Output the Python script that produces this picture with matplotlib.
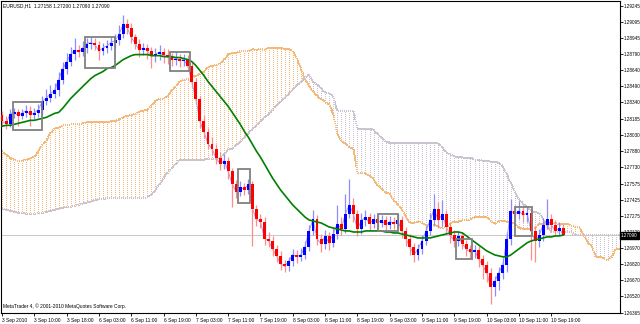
import numpy as np
import matplotlib
matplotlib.use("Agg")
import matplotlib.pyplot as plt
from matplotlib.patches import Rectangle
import matplotlib.transforms as mtransforms

plt.rcParams["font.family"] = ["Liberation Sans", "DejaVu Sans"]

# EURUSD H1 candles (bar index = hour on the chart)
first_open = 1.2822
closes = [
    1.2816, 1.2814, 1.2823, 1.2825, 1.2821, 1.2824, 1.2826, 1.2822, 1.2824, 1.2827,
    1.2835, 1.2838, 1.2842, 1.2845, 1.2855, 1.2865, 1.2872, 1.2879, 1.2883, 1.2881,
    1.2885, 1.2889, 1.2890, 1.2888, 1.2882, 1.2885, 1.2887, 1.2890, 1.2892, 1.2898,
    1.2907, 1.2904, 1.2895, 1.2889, 1.2883, 1.2885, 1.2882, 1.2877, 1.2879, 1.2881,
    1.2878, 1.2876, 1.2874, 1.2875, 1.2873, 1.2874, 1.2868, 1.2853, 1.2837, 1.2816,
    1.2806, 1.2795, 1.2790, 1.2782, 1.2776, 1.2779, 1.2769, 1.2757, 1.2750, 1.2754,
    1.2752, 1.2757, 1.2734, 1.2724, 1.2722, 1.2706, 1.2704, 1.2696, 1.2690, 1.2682,
    1.2680, 1.2685, 1.2691, 1.2689, 1.2691, 1.2698, 1.2713, 1.2724, 1.2706, 1.2701,
    1.2708, 1.2702, 1.2710, 1.2720, 1.2715, 1.2729, 1.2738, 1.2729, 1.2715, 1.2723,
    1.2726, 1.2720, 1.2724, 1.2721, 1.2723, 1.2719, 1.2722, 1.2720, 1.2723, 1.2713,
    1.2706, 1.2698, 1.2691, 1.2696, 1.2704, 1.2713, 1.2723, 1.2734, 1.2723, 1.2729,
    1.2717, 1.2709, 1.2704, 1.2708, 1.2701, 1.2696, 1.2693, 1.2695, 1.2687, 1.2681,
    1.2674, 1.2661, 1.2666, 1.2674, 1.2681, 1.2706, 1.2732, 1.2729, 1.2732, 1.2728,
    1.2730, 1.2713, 1.2704, 1.2709, 1.2719, 1.2724, 1.2719, 1.2713, 1.27158, 1.2709,
]
highs = [
    1.2826, 1.2821, 1.2828, 1.2829, 1.2828, 1.2828, 1.2831, 1.2830, 1.2829, 1.2832,
    1.2840, 1.2846, 1.2850, 1.2852, 1.2862, 1.2872, 1.2880, 1.2886, 1.2894, 1.2888,
    1.2891, 1.2894, 1.2895, 1.2894, 1.2891, 1.2890, 1.2892, 1.2895, 1.2898, 1.2906,
    1.2916, 1.2912, 1.2908, 1.2898, 1.2893, 1.2890, 1.2889, 1.2886, 1.2885, 1.2888,
    1.2885, 1.2884, 1.2880, 1.2881, 1.2879, 1.2879, 1.2878, 1.2872, 1.2857, 1.2840,
    1.2822, 1.2810, 1.2801, 1.2795, 1.2787, 1.2785, 1.2783, 1.2772, 1.2761, 1.2760,
    1.2758, 1.2762, 1.2760, 1.2738, 1.2729, 1.2726, 1.2712, 1.2708, 1.2700, 1.2694,
    1.2686, 1.2689, 1.2696, 1.2695, 1.2697, 1.2704, 1.2719, 1.2733, 1.2728, 1.2710,
    1.2714, 1.2712, 1.2716, 1.2738, 1.2726, 1.2748, 1.2762, 1.2744, 1.2733, 1.2730,
    1.2733, 1.2730, 1.2729, 1.2728, 1.2728, 1.2727, 1.2727, 1.2726, 1.2729, 1.2727,
    1.2717, 1.2710, 1.2702, 1.2701, 1.2709, 1.2718, 1.2730, 1.2748, 1.2740, 1.2742,
    1.2733, 1.2721, 1.2714, 1.2713, 1.2712, 1.2705, 1.2700, 1.2700, 1.2699, 1.2691,
    1.2685, 1.2678, 1.2671, 1.2679, 1.2688, 1.2712, 1.2743, 1.2738, 1.2741, 1.2737,
    1.2736, 1.2734, 1.2718, 1.2715, 1.2725, 1.2743, 1.2729, 1.2723, 1.2722, 1.2720,
]
lows = [
    1.2812, 1.2809, 1.2811, 1.2819, 1.2812, 1.2818, 1.2820, 1.2812, 1.2818, 1.2820,
    1.2823, 1.2831, 1.2834, 1.2838, 1.2840, 1.2851, 1.2860, 1.2868, 1.2874, 1.2876,
    1.2877, 1.2880, 1.2884, 1.2883, 1.2874, 1.2878, 1.2880, 1.2883, 1.2885, 1.2888,
    1.2894, 1.2898, 1.2890, 1.2884, 1.2876, 1.2878, 1.2875, 1.2866, 1.2872, 1.2874,
    1.2871, 1.2870, 1.2868, 1.2869, 1.2867, 1.2868, 1.2863, 1.2848, 1.2832, 1.2810,
    1.2800, 1.2790, 1.2784, 1.2776, 1.2770, 1.2771, 1.2762, 1.2736, 1.2744, 1.2746,
    1.2747, 1.2748, 1.2699, 1.2718, 1.2716, 1.2700, 1.2698, 1.2690, 1.2684, 1.2677,
    1.2675, 1.2676, 1.2680, 1.2683, 1.2685, 1.2687, 1.2694, 1.2709, 1.2700, 1.2693,
    1.2696, 1.2695, 1.2698, 1.2706, 1.2709, 1.2711, 1.2725, 1.2722, 1.2708, 1.2710,
    1.2718, 1.2714, 1.2716, 1.2716, 1.2717, 1.2714, 1.2715, 1.2715, 1.2716, 1.2707,
    1.2699, 1.2691, 1.2684, 1.2686, 1.2692, 1.2700, 1.2709, 1.2718, 1.2716, 1.2718,
    1.2711, 1.2702, 1.2698, 1.2699, 1.2696, 1.2690, 1.2688, 1.2688, 1.2679, 1.2668,
    1.2665, 1.2645, 1.2652, 1.2658, 1.2668, 1.2675, 1.2700, 1.2722, 1.2724, 1.2722,
    1.2722, 1.2686, 1.2684, 1.2698, 1.2704, 1.2715, 1.2713, 1.2708, 1.2709, 1.2709,
]

# green moving average
ma_line = [
    1.28114, 1.28123, 1.28123, 1.28132, 1.28142, 1.28151, 1.28160, 1.28170, 1.28170, 1.28179,
    1.28188, 1.28198, 1.28216, 1.28235, 1.28244, 1.28282, 1.28329, 1.28375, 1.28413, 1.28450,
    1.28488, 1.28525, 1.28562, 1.28590, 1.28609, 1.28628, 1.28656, 1.28665, 1.28684, 1.28712,
    1.28740, 1.28759, 1.28777, 1.28787, 1.28787, 1.28787, 1.28787, 1.28777, 1.28777, 1.28777,
    1.28768, 1.28768, 1.28768, 1.28759, 1.28759, 1.28749, 1.28740, 1.28721, 1.28684, 1.28637,
    1.28590, 1.28534, 1.28488, 1.28441, 1.28394, 1.28347, 1.28301, 1.28244, 1.28188, 1.28132,
    1.28067, 1.28011, 1.27945, 1.27880, 1.27824, 1.27758, 1.27693, 1.27627, 1.27571, 1.27515,
    1.27468, 1.27422, 1.27375, 1.27337, 1.27300, 1.27263, 1.27235, 1.27225, 1.27216, 1.27207,
    1.27188, 1.27169, 1.27160, 1.27150, 1.27141, 1.27132, 1.27132, 1.27122, 1.27122, 1.27122,
    1.27132, 1.27132, 1.27132, 1.27132, 1.27132, 1.27122, 1.27122, 1.27113, 1.27113, 1.27104,
    1.27094, 1.27085, 1.27076, 1.27066, 1.27066, 1.27066, 1.27066, 1.27076, 1.27085, 1.27094,
    1.27104, 1.27113, 1.27122, 1.27122, 1.27113, 1.27085, 1.27057, 1.27029, 1.27001, 1.26973,
    1.26945, 1.26926, 1.26907, 1.26898, 1.26889, 1.26889, 1.26907, 1.26935, 1.26963, 1.26992,
    1.27020, 1.27038, 1.27048, 1.27057, 1.27066, 1.27076, 1.27076, 1.27085, 1.27085, 1.27094,
]

# ichimoku kumo (senkou span A / B), runs 14 bars past the last candle
span_a = [
    1.2788, 1.2785, 1.2782, 1.2780, 1.2779, 1.2779, 1.2780, 1.2781, 1.2783, 1.2788,
    1.2794, 1.2798, 1.2805, 1.2809, 1.2810, 1.2812, 1.2813, 1.2813, 1.2814, 1.2814,
    1.2814, 1.2815, 1.2815, 1.2815, 1.2815, 1.2815, 1.2815, 1.2816, 1.2816, 1.2818,
    1.2820, 1.2821, 1.2822, 1.2823, 1.2825, 1.2826, 1.2827, 1.2831, 1.2835, 1.2837,
    1.2837, 1.2840, 1.2845, 1.2849, 1.2853, 1.2855, 1.2856, 1.2857, 1.2859, 1.2861,
    1.2863, 1.2867, 1.2868, 1.2869, 1.2870, 1.2874, 1.2879, 1.2880, 1.2880, 1.2882,
    1.2882, 1.2882, 1.2884, 1.2883, 1.2884, 1.2883, 1.2885, 1.2885, 1.2885, 1.2885,
    1.2884, 1.2884, 1.2882, 1.2875, 1.2866, 1.2855, 1.2850, 1.2844, 1.2840, 1.2837,
    1.2834, 1.2832, 1.2823, 1.2805, 1.2798, 1.2795, 1.2792, 1.2790, 1.2768, 1.2768,
    1.2767, 1.2765, 1.2762, 1.2756, 1.2753, 1.2749, 1.2748, 1.2742, 1.2738, 1.2734,
    1.2726, 1.2721, 1.2721, 1.2722, 1.2721, 1.2718, 1.2719, 1.2719, 1.2717, 1.2716,
    1.2717, 1.2720, 1.2722, 1.2722, 1.2723, 1.2723, 1.2724, 1.2726, 1.2726, 1.2726,
    1.2726, 1.2723, 1.2720, 1.2722, 1.2723, 1.2722, 1.2721, 1.2720, 1.2716, 1.2715,
    1.2715, 1.2716, 1.2716, 1.2720, 1.2720, 1.2720, 1.2720, 1.2721, 1.2719, 1.2720,
    1.2720, 1.2718, 1.2717, 1.2717, 1.2710, 1.2702, 1.2699, 1.2689, 1.2689, 1.2687,
    1.2686, 1.2689, 1.2696, 1.2696,
]
span_b = [
    1.2734, 1.2733, 1.2732, 1.2731, 1.2730, 1.2730, 1.2729, 1.2729, 1.2729, 1.2730,
    1.2730, 1.2731, 1.2732, 1.2733, 1.2734, 1.2735, 1.2736, 1.2736, 1.2737, 1.2738,
    1.2739, 1.2740, 1.2741, 1.2742, 1.2743, 1.2743, 1.2744, 1.2744, 1.2744, 1.2744,
    1.2744, 1.2744, 1.2744, 1.2744, 1.2744, 1.2744, 1.2745, 1.2747, 1.2752, 1.2757,
    1.2763, 1.2768, 1.2772, 1.2776, 1.2780, 1.2780, 1.2780, 1.2780, 1.2780, 1.2780,
    1.2780, 1.2781, 1.2781, 1.2781, 1.2782, 1.2785, 1.2790, 1.2790, 1.2794, 1.2797,
    1.2801, 1.2805, 1.2809, 1.2812, 1.2816, 1.2820, 1.2823, 1.2827, 1.2831, 1.2835,
    1.2838, 1.2842, 1.2846, 1.2850, 1.2853, 1.2857, 1.2860, 1.2853, 1.2851, 1.2847,
    1.2843, 1.2843, 1.2839, 1.2826, 1.2826, 1.2826, 1.2826, 1.2826, 1.2809, 1.2809,
    1.2809, 1.2809, 1.2808, 1.2804, 1.2801, 1.2797, 1.2796, 1.2796, 1.2796, 1.2796,
    1.2796, 1.2796, 1.2796, 1.2796, 1.2796, 1.2796, 1.2796, 1.2796, 1.2795, 1.2792,
    1.2787, 1.2785, 1.2783, 1.2783, 1.2782, 1.2782, 1.2782, 1.2780, 1.2780, 1.2779,
    1.2779, 1.2778, 1.2778, 1.2777, 1.2774, 1.2766, 1.2758, 1.2750, 1.2743, 1.2739,
    1.2736, 1.2732, 1.2731, 1.2730, 1.2724, 1.2719, 1.2712, 1.2712, 1.2712, 1.2712,
    1.2712, 1.2712, 1.2709, 1.2709, 1.2709, 1.2709, 1.2709, 1.2709, 1.2709, 1.2709,
    1.2709, 1.2709, 1.2709, 1.2709,
]

# rectangles drawn on the chart: (first bar, last bar, top price, bottom price)
boxes = [
    (2.7, 9.9, 1.2834, 1.2808),
    (20.5, 28.0, 1.2895, 1.2866),
    (41.6, 46.5, 1.2881, 1.2863),
    (58.4, 61.4, 1.2771, 1.2739),
    (93.1, 98.0, 1.2729, 1.2713),
    (112.4, 116.3, 1.2706, 1.2687),
    (127.0, 131.2, 1.2736, 1.2708),
]

price_labels = ["1.29245", "1.29095", "1.28945", "1.28790", "1.28640", "1.28490",
                "1.28340", "1.28185", "1.28030", "1.27880", "1.27730", "1.27575",
                "1.27425", "1.27275", "1.27120", "1.26970", "1.26820", "1.26670",
                "1.26520", "1.26365"]
time_labels = ["3 Sep 2010", "3 Sep 10:00", "3 Sep 18:00", "6 Sep 03:00",
               "6 Sep 11:00", "6 Sep 19:00", "7 Sep 03:00", "7 Sep 11:00",
               "7 Sep 19:00", "8 Sep 03:00", "8 Sep 11:00", "8 Sep 19:00",
               "9 Sep 03:00", "9 Sep 11:00", "9 Sep 19:00", "10 Sep 03:00",
               "10 Sep 11:00", "10 Sep 19:00"]
time_label_step = 8
last_price = 1.27090
header = "EURUSD,H1  1.27158 1.27200 1.27090 1.27090"
footer = "MetaTrader 4, \u00a9 2001-2010 MetaQuotes Software Corp."

FS = 3.5
FS_Y = 3.3
UP_KUMO = "#F6B877"   # light sandy brown
DN_KUMO = "#CBC3CF"   # thistle-ish grey

opens = [first_open] + closes[:-1]
n = len(closes)
bars = np.arange(n)
kumo_bars = np.arange(len(span_a))

fig = plt.figure(figsize=(6.4, 3.24), dpi=100)
ax = fig.add_axes([0.0016, 0.034, 0.967, 0.963])

# kumo: dotted histogram between the two spans (crisp 1px dots)
sa = np.array(span_a)
sb = np.array(span_b)
kumo_cols = np.where(sa >= sb, UP_KUMO, DN_KUMO)
kumo = ax.vlines(kumo_bars, np.minimum(sa, sb), np.maximum(sa, sb), colors=kumo_cols,
                 linestyles=(0, (1, 2)), lw=0.72, zorder=1)
kumo.set_antialiased(False)
for span, col in ((sa, UP_KUMO), (sb, DN_KUMO)):
    ln, = ax.plot(kumo_bars, span, color=col, ls=(0, (1, 2)), lw=0.72, zorder=1)
    ln.set_antialiased(False)

ax.axhline(last_price, color="#c8c8c8", lw=0.7, zorder=1)

# thin close line under the candles
ax.plot(bars, closes, color="#9f9fef", lw=0.7, zorder=2)

# candles
bull = np.array(closes) >= np.array(opens)
wick_cols = np.where(bull, "#8c8cff", "#ff8c8c")
body_cols = np.where(bull, "#0000ff", "#ff0000")
ax.vlines(bars, lows, highs, colors=wick_cols, lw=0.9, zorder=3)
bottoms = np.minimum(opens, closes)
heights = np.maximum(np.abs(np.array(closes) - np.array(opens)), 0.00006)
ax.bar(bars, heights, bottom=bottoms, width=0.72, color=body_cols, lw=0, zorder=4)

ax.plot(bars, ma_line, color="#008000", lw=1.2, zorder=5)

for x0, x1, top, bot in boxes:
    ax.add_patch(Rectangle((x0, bot), x1 - x0, top - bot, fill=False,
                           edgecolor="#808080", lw=1.3, zorder=6))

ax.set_xlim(-0.25, 153.0)
ax.set_ylim(1.26362, 1.2929)

ax.yaxis.tick_right()
ax.set_yticks([float(p) for p in price_labels])
ax.set_yticklabels(price_labels, fontsize=FS_Y)
ax.tick_params(axis="y", length=2, width=0.6, pad=0.5)

ax.set_xticks(np.arange(len(time_labels)) * time_label_step)
ax.set_xticklabels(time_labels, fontsize=FS, ha="left")
ax.tick_params(axis="x", length=2.5, width=0.6, pad=1)

for s in ax.spines.values():
    s.set_color("#000000")
    s.set_linewidth(0.8)

ax.text(0.004, 0.993, header, transform=ax.transAxes, fontsize=FS,
        va="top", ha="left")
ax.text(0.004, 0.012, footer, transform=ax.transAxes, fontsize=FS,
        va="bottom", ha="left")

trans = mtransforms.blended_transform_factory(ax.transAxes, ax.transData)
ax.text(1.002, last_price, "1.27090", transform=trans, fontsize=FS_Y, color="white",
        va="center", ha="left", zorder=10,
        bbox=dict(boxstyle="square,pad=0.2", fc="black", ec="black"))

fig.savefig("out.png", dpi=100, facecolor="white")
plt.close(fig)
